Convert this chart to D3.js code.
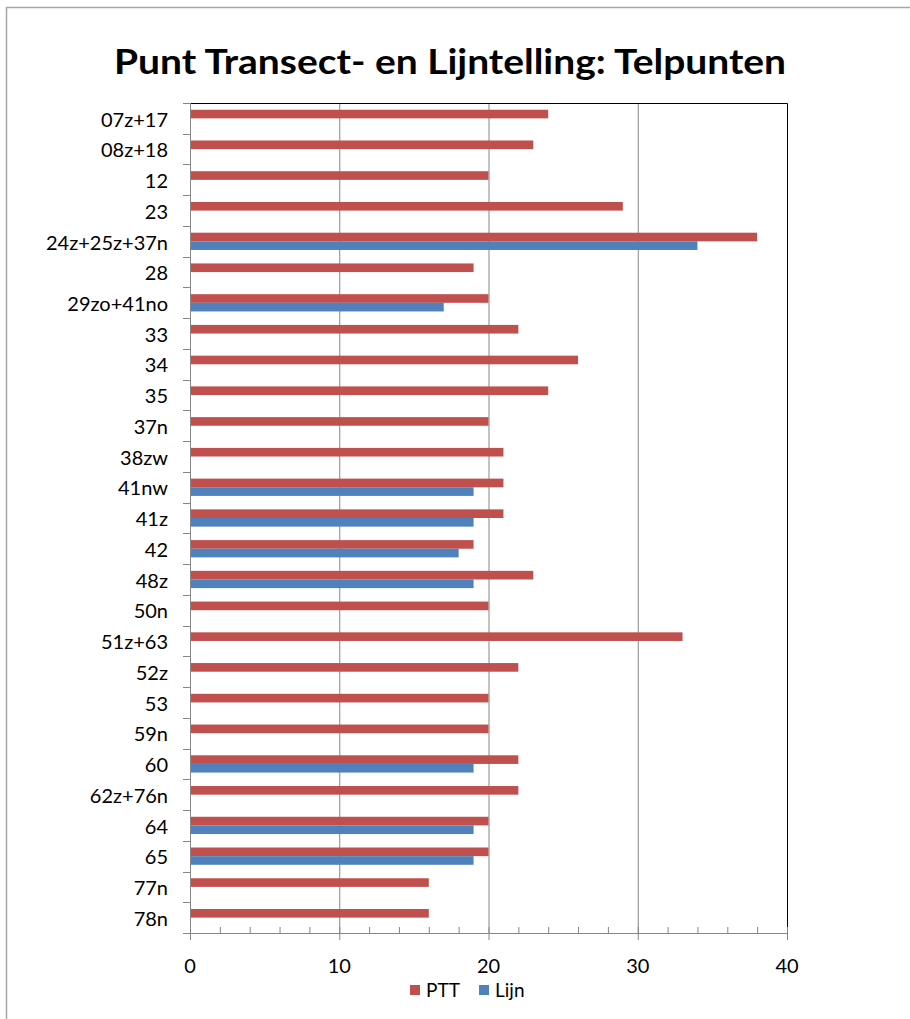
<!DOCTYPE html>
<html>
<head>
<meta charset="utf-8">
<script src="https://cdn.jsdelivr.net/npm/d3@7"></script>
<style>
  html, body { margin: 0; padding: 0; background: #fff; }
  svg { display: block; }
  text { font-family: Lato, "Open Sans", sans-serif; }
</style>
</head>
<body>
<svg id="chart" width="910" height="1019"></svg>
<script>
const categories = ["07z+17","08z+18","12","23","24z+25z+37n","28","29zo+41no","33","34","35","37n","38zw","41nw","41z","42","48z","50n","51z+63","52z","53","59n","60","62z+76n","64","65","77n","78n"];
const pttValues  = [24,23,20,29,38,19,20,22,26,24,20,21,21,21,19,23,20,33,22,20,20,22,22,20,20,16,16];
const lijnValues = [null,null,null,null,34,null,17,null,null,null,null,null,19,19,18,19,null,null,null,null,null,19,null,19,19,null,null];
const seriesNames = ["PTT","Lijn"];
const seriesColors = ["#C0504D","#4F81BD"];
const xTicks = [0,10,20,30,40];
const chartTitle = "Punt Transect- en Lijntelling: Telpunten";

(function(){
const svg = d3.select("#chart");
const pL = 190, pR = 787, pT = 103, pB = 933;

// outer chart border
svg.append("path").attr("d", `M6.5,1019 L6.5,7.5 L910,7.5`)
  .attr("fill","none").attr("stroke","#a6a6a6").attr("stroke-width",1.5);

svg.append("text").attr("x", 450).attr("y", 74).attr("text-anchor","middle")
  .attr("font-size", 35).attr("font-weight","bold").attr("fill","#000")
  .attr("textLength", 672).attr("lengthAdjust","spacingAndGlyphs")
  .text(chartTitle);

const x = d3.scaleLinear().domain([0,40]).range([pL,pR]);
const y = d3.scaleBand().domain(categories).range([pT,pB]);
const inner = d3.scaleBand().domain(seriesNames).range([0,y.bandwidth()]).paddingInner(0).paddingOuter(0.78);

// gridlines
svg.append("g").selectAll("line").data(xTicks.slice(1,-1)).join("line")
  .attr("x1", d=>x(d)+0.5).attr("x2", d=>x(d)+0.5).attr("y1", pT).attr("y2", pB)
  .attr("stroke","#868686").attr("stroke-width",1);

// plot border top and right
svg.append("path").attr("d", `M${pL},${pT+0.5} L${pR+0.5},${pT+0.5} L${pR+0.5},${pB}`)
  .attr("fill","none").attr("stroke","#000").attr("stroke-width",1);

// bars
const data = [];
categories.forEach((c,i)=>{
  if (pttValues[i] != null) data.push({c, s:"PTT", v:pttValues[i]});
  if (lijnValues[i] != null) data.push({c, s:"Lijn", v:lijnValues[i]});
});
svg.append("g").selectAll("rect").data(data).join("rect")
  .attr("x", x(0)).attr("y", d=>y(d.c)+inner(d.s))
  .attr("width", d=>x(d.v)-x(0)).attr("height", inner.bandwidth())
  .attr("fill", d=>seriesColors[seriesNames.indexOf(d.s)]);

// y axis
const yAxisG = svg.append("g");
yAxisG.append("line").attr("x1",pL+0.5).attr("x2",pL+0.5).attr("y1",pT).attr("y2",pB+6).attr("stroke","#868686");
const boundaries = d3.range(categories.length+1).map(i=> pT + i*y.step());
yAxisG.selectAll("line.t").data(boundaries).join("line").attr("class","t")
  .attr("x1", pL-7).attr("x2", pL).attr("y1", d=>Math.round(d)+0.5).attr("y2", d=>Math.round(d)+0.5)
  .attr("stroke","#868686");
yAxisG.selectAll("text").data(categories).join("text")
  .attr("x", 168).attr("y", d=>y(d)+y.bandwidth()/2+1).attr("dy","0.36em")
  .attr("text-anchor","end").attr("font-size",20).attr("fill","#000").text(d=>d);

// x axis
const xAxisG = svg.append("g");
xAxisG.append("line").attr("x1",pL-7).attr("x2",pR+1).attr("y1",pB+0.5).attr("y2",pB+0.5).attr("stroke","#868686");
xAxisG.selectAll("line.maj").data(xTicks).join("line").attr("class","maj")
  .attr("x1", d=>x(d)+0.5).attr("x2", d=>x(d)+0.5).attr("y1", pB-6).attr("y2", pB+7).attr("stroke","#868686");
const minor = d3.range(2,40,2).filter(v=>v%10!==0);
xAxisG.selectAll("line.min").data(minor).join("line").attr("class","min")
  .attr("x1", d=>x(d)+0.5).attr("x2", d=>x(d)+0.5).attr("y1", pB-6).attr("y2", pB).attr("stroke","#868686");
xAxisG.selectAll("text").data(xTicks).join("text")
  .attr("x", d=>x(d)).attr("y", 966).attr("dy","0.36em").attr("text-anchor","middle")
  .attr("font-size",20).attr("fill","#000").text(d=>d);

// legend
const legend = svg.append("g");
const legendItems = [{n:"PTT", x:410},{n:"Lijn", x:479}];
legendItems.forEach((it,i)=>{
  legend.append("rect").attr("x", it.x).attr("y", 985).attr("width",10).attr("height",10).attr("fill", seriesColors[i]);
  legend.append("text").attr("x", it.x+16).attr("y", 990).attr("dy","0.36em").attr("font-size",19).attr("fill","#000").text(it.n);
});
})();
</script>
</body>
</html>
